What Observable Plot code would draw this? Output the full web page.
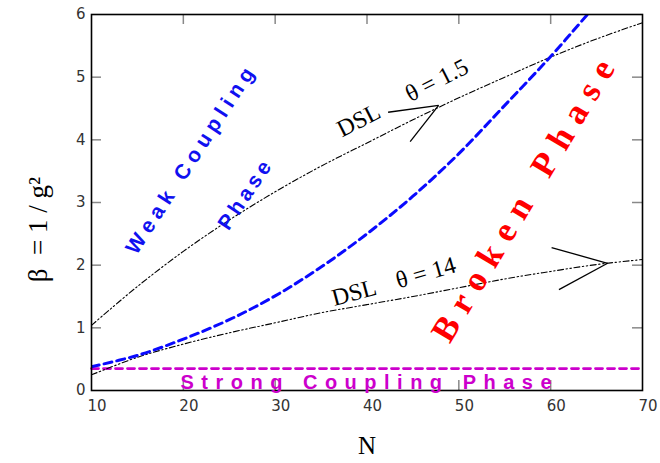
<!DOCTYPE html>
<html>
<head>
<meta charset="utf-8">
<script src="https://cdn.jsdelivr.net/npm/d3@7"></script>
<script src="https://cdn.jsdelivr.net/npm/@observablehq/plot@0.6"></script>
<style>
  html, body { margin: 0; padding: 0; background: #fff; }
</style>
</head>
<body>
<div id="chart"></div>
<script>
// ---- data ----
const xTicks = [10, 20, 30, 40, 50, 60, 70];
const yTicks = [0, 1, 2, 3, 4, 5, 6];

const dsl15N = [10, 15, 20, 25, 30, 35, 40, 45, 50, 55, 60, 65, 70];
const dsl15B = [1.04, 1.66, 2.22, 2.72, 3.17, 3.58, 3.95, 4.32, 4.67, 5.0, 5.32, 5.61, 5.87];

const dsl14N = [10, 15, 20, 25, 30, 35, 40, 45, 50, 55, 60, 65, 70];
const dsl14B = [0.25, 0.53, 0.74, 0.92, 1.08, 1.24, 1.37, 1.5, 1.64, 1.78, 1.9, 2.01, 2.09];

const blueN = [10, 15, 20, 25, 30, 35, 40, 45, 50, 55, 60, 64];
const blueB = [0.38, 0.56, 0.82, 1.13, 1.51, 1.97, 2.5, 3.1, 3.78, 4.55, 5.33, 6.0];

const strongN = [10, 70];
const strongB = [0.35, 0.35];

// arrow chevrons: [tipN, tipB, arm1N, arm1B, arm2N, arm2B]
const arrow15 = [47.8, 4.55, 42.3, 4.44, 44.7, 3.97];
const arrow14 = [66.2, 2.03, 60.1, 2.28, 60.9, 1.61];

// labels
const labels = [
  {id: "weak", text: "Weak Coupling", N: 20.9, B: 3.7, rotate: -57, color: "#1010f0", size: 21, family: "Liberation Sans, Arial, sans-serif", spacing: 5.5},
  {id: "phase", text: "Phase", N: 26.8, B: 3.14, rotate: -56, color: "#1010f0", size: 21, family: "Liberation Sans, Arial, sans-serif", spacing: 4},
  {id: "broken", text: "Broken Phase", N: 57.3, B: 3.1, rotate: -59, color: "#ff0000", size: 35, family: "Liberation Serif, Times New Roman, serif", spacing: 10.5},
  {id: "strong", text: "Strong Coupling Phase", N: 40.3, B: 0.12, rotate: 0, color: "#cc00cc", size: 20, family: "Liberation Sans, Arial, sans-serif", spacing: 7.5},
  {id: "dsl1", text: "DSL", N: 39.1, B: 4.31, rotate: -27, color: "#000", size: 24, family: "Liberation Serif, Times New Roman, serif", spacing: 0},
  {id: "th1", text: "θ = 1.5", N: 47.6, B: 4.95, rotate: -27, color: "#000", size: 24, family: "Liberation Serif, Times New Roman, serif", spacing: 0},
  {id: "dsl2", text: "DSL", N: 38.6, B: 1.56, rotate: -15, color: "#000", size: 24, family: "Liberation Serif, Times New Roman, serif", spacing: 0},
  {id: "th2", text: "θ = 14", N: 46.4, B: 1.88, rotate: -16, color: "#000", size: 24, family: "Liberation Serif, Times New Roman, serif", spacing: 0}
];

const yTitle = "β\u00a0\u00a0=\u00a01\u00a0/\u00a0g²";
const xTitle = "N";

// ---- build tables ----
const zip = (xs, ys) => xs.map((x, i) => ({N: x, B: ys[i]}));
const chevron = a => [
  {x1: a[2], y1: a[3], x2: a[0], y2: a[1]},
  {x1: a[4], y1: a[5], x2: a[0], y2: a[1]}
];

const tickLenX = 10 / 9.18;   // in N units
const tickLenY = 10 / 62.67;  // in beta units
const dashDot = "6,2.5,1.5,2.5,1.5,2.5";

const marks = [
  // inward ticks
  Plot.ruleX(xTicks.slice(1, -1), {x: d => d, y1: 0, y2: tickLenY, stroke: "#888", strokeWidth: 1.5}),
  Plot.ruleX(xTicks.slice(1, -1), {x: d => d, y1: 6 - tickLenY, y2: 6, stroke: "#888", strokeWidth: 1.5}),
  Plot.ruleY(yTicks.slice(1, -1), {y: d => d, x1: 10, x2: 10 + tickLenX, stroke: "#888", strokeWidth: 1.5}),
  Plot.ruleY(yTicks.slice(1, -1), {y: d => d, x1: 70 - tickLenX, x2: 70, stroke: "#888", strokeWidth: 1.5}),
  Plot.axisX(xTicks, {anchor: "bottom", tickSize: 0, tickPadding: 10, tickFormat: d => String(d), textAnchor: "start", dx: -4, fontSize: 15, fontFamily: "DejaVu Sans, sans-serif", fill: "#333", label: null}),
  Plot.axisY(yTicks, {anchor: "left", tickSize: 0, tickPadding: 6, tickFormat: d => String(d), fontSize: 15, fontFamily: "DejaVu Sans, sans-serif", fill: "#333", label: null}),
  // curves
  Plot.line(zip(strongN, strongB), {x: "N", y: "B", stroke: "#cc00cc", strokeWidth: 2.8, strokeDasharray: "7,5"}),
  Plot.line(zip(dsl15N, dsl15B), {x: "N", y: "B", stroke: "#000", strokeWidth: 1.1, strokeDasharray: dashDot, curve: "catmull-rom"}),
  Plot.line(zip(dsl14N, dsl14B), {x: "N", y: "B", stroke: "#000", strokeWidth: 1.1, strokeDasharray: dashDot, curve: "catmull-rom"}),
  Plot.line(zip(blueN, blueB), {x: "N", y: "B", stroke: "#0a0aff", strokeWidth: 3, strokeDasharray: "8,5", curve: "catmull-rom", clip: true}),
  // arrows
  Plot.link(chevron(arrow15), {x1: "x1", y1: "y1", x2: "x2", y2: "y2", stroke: "#000", strokeWidth: 1.3}),
  Plot.link(chevron(arrow14), {x1: "x1", y1: "y1", x2: "x2", y2: "y2", stroke: "#000", strokeWidth: 1.3}),
  Plot.frame({stroke: "#000", strokeWidth: 1.6}),
  // axis titles
  Plot.text([yTitle], {frameAnchor: "left", textAnchor: "middle", dx: -53, dy: 27, rotate: -90, fontSize: 27, fontFamily: "Liberation Serif, Times New Roman, serif", fill: "#000"}),
  Plot.text([xTitle], {frameAnchor: "bottom", dy: 63, fontSize: 25, fontFamily: "Liberation Serif, Times New Roman, serif", fill: "#000"})
];

for (const l of labels) {
  marks.push(Plot.text([l], {
    x: "N", y: "B", text: "text", rotate: l.rotate, fill: l.color,
    fontSize: l.size, fontFamily: l.family,
    fontWeight: l.spacing ? "bold" : "normal"
  }));
}

const chart = Plot.plot({
  width: 660,
  height: 463,
  marginLeft: 91,
  marginRight: 18,
  marginTop: 14,
  marginBottom: 73,
  x: {domain: [10, 70], ticks: xTicks},
  y: {domain: [0, 6], ticks: yTicks},
  style: {background: "#fff", overflow: "visible"},
  marks
});

// letter spacing for the region labels
const texts = Array.from(chart.querySelectorAll("text"));
for (const l of labels) {
  if (!l.spacing) continue;
  texts.filter(t => t.textContent === l.text).forEach(t => {
    t.style.letterSpacing = l.spacing + "px";
  });
}
document.getElementById("chart").appendChild(chart);
</script>
</body>
</html>
